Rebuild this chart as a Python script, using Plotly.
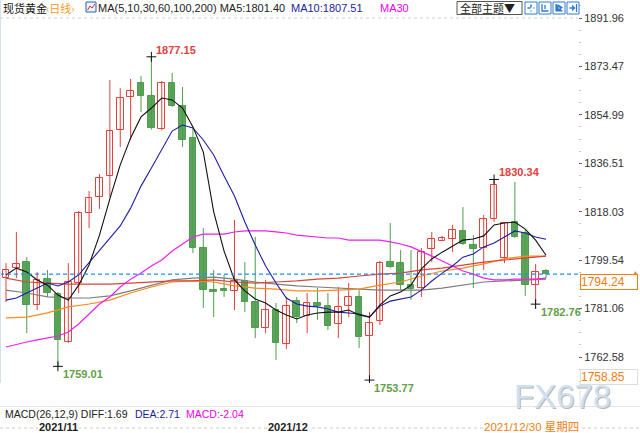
import plotly.graph_objects as go
import pandas as pd

# ---------------- data ----------------
dates = [d.strftime("%Y-%m-%d") for d in pd.bdate_range("2021-10-27", periods=53)]

opens = [1792.7, 1796.5, 1798.8, 1782.4, 1792.3, 1786.6, 1768.3, 1790.8, 1817.5, 1823.6,
         1831.7, 1849.2, 1861.8, 1867.2, 1862.2, 1849.6, 1867.2, 1858.4, 1846.2, 1804.2,
         1788.1, 1788.5, 1787.8, 1791.6, 1783.6, 1773.6, 1780.5, 1767.5, 1783.9, 1778.2,
         1783.2, 1782.0, 1775.2, 1782.0, 1785.5, 1770.6, 1776.3, 1798.8, 1798.4, 1790.1,
         1788.9, 1803.8, 1806.8, 1807.6, 1810.7, 1805.3, 1804.2, 1815.2, 1800.4, 1814.1,
         1809.9, 1790.1, 1795.4]
highs = [1798.4, 1810.3, 1800.7, 1795.0, 1795.8, 1787.4, 1798.4, 1818.3, 1825.9, 1832.4,
         1868.3, 1865.2, 1868.7, 1869.8, 1877.15, 1867.9, 1871.0, 1865.6, 1850.0, 1811.8,
         1795.8, 1793.9, 1814.9, 1798.8, 1808.4, 1792.0, 1783.2, 1785.5, 1785.5, 1787.0,
         1788.9, 1787.0, 1789.3, 1790.8, 1788.1, 1779.7, 1799.2, 1813.7, 1803.4, 1803.4,
         1804.2, 1810.3, 1808.8, 1813.0, 1819.8, 1809.1, 1816.8, 1830.34, 1814.1, 1829.4,
         1811.0, 1798.1, 1796.2]
lows = [1783.6, 1792.7, 1771.7, 1780.5, 1785.5, 1759.01, 1768.0, 1787.0, 1811.8, 1819.1,
        1823.6, 1842.7, 1845.4, 1856.1, 1849.4, 1849.0, 1858.0, 1842.7, 1802.3, 1781.3,
        1777.8, 1785.5, 1780.5, 1779.7, 1769.8, 1771.7, 1761.4, 1765.6, 1775.5, 1771.7,
        1776.7, 1772.9, 1769.8, 1777.8, 1766.0, 1753.77, 1774.8, 1796.5, 1788.1, 1784.3,
        1785.5, 1798.8, 1806.8, 1802.6, 1805.3, 1788.9, 1795.8, 1814.1, 1798.4, 1808.0,
        1785.9, 1782.76, 1792.7]
closes = [1795.8, 1798.1, 1782.4, 1792.0, 1787.0, 1769.1, 1791.2, 1817.5, 1823.2, 1830.9,
          1848.8, 1861.4, 1864.1, 1862.2, 1850.0, 1867.2, 1858.4, 1845.4, 1804.2, 1788.1,
          1787.4, 1787.8, 1791.6, 1783.6, 1773.6, 1780.5, 1767.9, 1782.0, 1777.8, 1783.2,
          1782.0, 1774.4, 1781.6, 1785.5, 1770.2, 1775.5, 1798.4, 1796.9, 1790.1, 1788.5,
          1802.6, 1807.6, 1808.0, 1811.0, 1805.7, 1803.8, 1815.2, 1828.2, 1813.7, 1808.4,
          1790.1, 1795.0, 1794.24]

ma5 = [1793.9, 1796.5, 1795.0, 1792.0, 1790.0, 1786.2, 1784.3, 1790.0, 1797.7, 1809.1,
       1822.9, 1835.9, 1846.2, 1854.2, 1857.6, 1861.4, 1860.7, 1857.6, 1850.4, 1840.8,
       1818.0, 1803.0, 1792.0, 1787.8, 1784.7, 1783.2, 1780.5, 1778.6, 1777.1, 1778.6,
       1779.4, 1779.7, 1779.7, 1780.5, 1778.6, 1777.8, 1782.4, 1785.9, 1787.4, 1790.0,
       1796.2, 1800.0, 1802.6, 1804.9, 1807.2, 1807.6, 1808.8, 1813.0, 1813.7, 1814.1,
       1811.4, 1807.2, 1801.4]
ma10 = [1784.3, 1785.1, 1787.0, 1788.9, 1790.8, 1789.7, 1791.2, 1793.9, 1798.5, 1803.4,
        1808.0, 1812.6, 1819.4, 1827.8, 1834.7, 1842.0, 1848.8, 1851.1, 1850.0, 1845.4,
        1839.7, 1831.7, 1824.0, 1814.1, 1805.3, 1797.3, 1790.8, 1785.1, 1782.8, 1782.0,
        1781.7, 1780.9, 1779.7, 1779.4, 1779.0, 1777.8, 1782.0, 1783.9, 1784.7, 1785.5,
        1788.1, 1791.6, 1794.6, 1797.3, 1800.7, 1801.9, 1804.6, 1806.1, 1808.4, 1810.7,
        1809.9, 1808.4, 1807.51]
ma30 = [1766.4, 1767.5, 1768.3, 1769.1, 1769.8, 1770.6, 1772.1, 1775.2, 1779.0, 1782.8,
        1785.5, 1789.3, 1792.3, 1794.6, 1797.3, 1799.6, 1803.0, 1805.7, 1808.4, 1809.5,
        1809.5, 1809.5, 1810.3, 1810.7, 1810.7, 1810.7, 1810.3, 1809.9, 1809.1, 1808.8,
        1808.4, 1808.0, 1808.0, 1807.2, 1807.2, 1807.2, 1807.2, 1806.5, 1805.7, 1804.6,
        1803.0, 1801.1, 1799.2, 1797.3, 1795.4, 1794.2, 1792.7, 1792.0, 1792.0, 1792.3,
        1792.3, 1792.3, 1792.7]
# long averages read every second session
ma60 = [1777.5, 1777.8, 1779.4, 1781.7, 1782.8, 1784.3, 1787.0, 1789.3, 1791.2, 1791.6,
        1791.2, 1789.7, 1788.9, 1788.5, 1787.8, 1787.8, 1788.1, 1788.5, 1790.0, 1791.2,
        1793.5, 1795.4, 1796.5, 1798.1, 1800.0, 1801.1, 1801.1]
ma100 = [1788.1, 1787.0, 1785.5, 1785.1, 1785.1, 1785.9, 1787.8, 1790.0, 1792.0, 1792.7,
         1793.1, 1792.3, 1791.2, 1790.4, 1789.7, 1789.3, 1788.9, 1788.5, 1788.1, 1788.1,
         1788.1, 1788.9, 1790.0, 1791.2, 1791.6, 1792.0, 1792.3]
ma200 = [1792.7, 1791.2, 1790.8, 1790.4, 1790.4, 1790.4, 1790.8, 1791.2, 1791.6, 1791.6,
         1792.0, 1791.2, 1790.8, 1791.2, 1791.6, 1792.3, 1792.7, 1793.5, 1794.2, 1794.6,
         1795.8, 1796.5, 1797.7, 1798.8, 1799.6, 1800.4, 1801.1]

price_ticks = [1762.58, 1781.06, 1799.54, 1818.03, 1836.51, 1854.99, 1873.47, 1891.96]
month_labels = [("2021-11-01", "2021/11"), ("2021-12-01", "2021/12")]
extremes = [(14, "high"), (5, "low"), (35, "low"), (47, "high"), (51, "low")]
cursor_price = 1758.85
cursor_date = "2021/12/30 星期四"
macd_text = [("MACD(26,12,9) DIFF:1.69", "#222222", 3), ("DEA:2.71", "#1c1c9c", 133), ("MACD:-2.04", "#ee00ee", 184)]

# ---------------- style ----------------
W, H = 640, 433
PLOT_R = 578
RED = "#e3413b"
GREEN = "#4f9c4f"
GREEN_FILL = "#5ba55b"
ORANGE = "#f27d12"
FONT = "Arial, Liberation Sans, Noto Sans CJK SC, sans-serif"
CJK = "Noto Sans CJK SC, sans-serif"

def px(x):
    return x / W

def py(y):
    return 1 - y / H

xs = list(range(len(dates)))
xs_long = xs[::2]

fig = go.Figure()

# wicks
for up in (True, False):
    wx, wy = [], []
    for i in xs:
        if (closes[i] >= opens[i]) == up:
            wx += [i, i, None]
            wy += [lows[i], highs[i], None]
    fig.add_trace(go.Scatter(x=wx, y=wy, mode="lines", hoverinfo="skip",
                             line=dict(color=RED if up else GREEN, width=1)))

# bodies
for up in (True, False):
    bx, bb, bh = [], [], []
    for i in xs:
        if (closes[i] >= opens[i]) == up:
            bx.append(i)
            bb.append(min(opens[i], closes[i]))
            bh.append(max(abs(closes[i] - opens[i]), 0.4))
    fig.add_trace(go.Bar(x=bx, y=bh, base=bb, width=0.64, hoverinfo="skip",
                         marker=dict(color="white" if up else GREEN_FILL,
                                     line=dict(color=RED if up else GREEN, width=1))))

# moving averages
fig.add_trace(go.Scatter(x=xs_long, y=ma100, mode="lines", line=dict(color="#7d7d7d", width=1.2), hoverinfo="skip"))
fig.add_trace(go.Scatter(x=xs_long, y=ma60, mode="lines", line=dict(color="#ff8a1c", width=1.2), hoverinfo="skip"))
fig.add_trace(go.Scatter(x=xs_long, y=ma200, mode="lines", line=dict(color="#d8453b", width=1.2), hoverinfo="skip"))
fig.add_trace(go.Scatter(x=xs, y=ma30, mode="lines", line=dict(color="#f01ef0", width=1.2), hoverinfo="skip"))
fig.add_trace(go.Scatter(x=xs, y=ma10, mode="lines", line=dict(color="#1d1da6", width=1.1), hoverinfo="skip"))
fig.add_trace(go.Scatter(x=xs, y=ma5, mode="lines", line=dict(color="#111111", width=1.1), hoverinfo="skip"))

# extreme markers
ex_x = [i for i, k in extremes]
ex_y = [highs[i] if k == "high" else lows[i] for i, k in extremes]
fig.add_trace(go.Scatter(x=ex_x, y=ex_y, mode="markers", hoverinfo="skip",
                         marker=dict(symbol="cross-thin", size=7, line=dict(color="#111", width=1))))

annotations = []
for (i, k), v in zip(extremes, ex_y):
    annotations.append(dict(x=i, y=v, xref="x", yref="y", text=f"{v:.2f}", showarrow=False,
                            xanchor="left", yanchor="middle", xshift=3, yshift=7 if k == "high" else -8,
                            font=dict(size=11, color=RED if k == "high" else "#62a046", family=FONT, weight="bold")))

# header
def txt(x, y, s, color="#222", size=11, family=FONT, **kw):
    d = dict(x=px(x), y=py(y), xref="paper", yref="paper", text=s, showarrow=False,
             xanchor="left", yanchor="middle", font=dict(size=size, color=color, family=family))
    d.update(kw)
    annotations.append(d)

txt(1, 8, "现货黄金", "#111", 11, CJK)
txt(44, 8, "‹日线›", "#f39a1e", 11, CJK)
txt(96, 8, "MA(5,10,30,60,100,200) MA5:1801.40", "#222", 11)
txt(289, 8, "MA10:1807.51", "#1c1c9c", 11)
txt(378, 8, "MA30", "#ee00ee", 11)
txt(458, 8, "全部主题▼", "#222", 11, CJK)

for s, c, x in macd_text:
    txt(x, 414, s, c, 10.5)

for d, lab in month_labels:
    annotations.append(dict(x=dates.index(d), y=py(427), xref="x", yref="paper", text=lab, showarrow=False,
                            xanchor="left", yanchor="middle", xshift=1, bgcolor="white", borderpad=0,
                            font=dict(size=11, color="#222", family=FONT, weight="bold")))

txt(483, 427, cursor_date, ORANGE, 11.5, FONT, bgcolor="white", borderpad=0)

# watermark
annotations.append(dict(x=px(562), y=py(396), xref="paper", yref="paper", text="FX678", showarrow=False,
                        xanchor="center", yanchor="middle", xshift=1.5, yshift=-1.5,
                        font=dict(size=33, color="#bdb6ae", family="Liberation Sans")))
annotations.append(dict(x=px(562), y=py(396), xref="paper", yref="paper", text="FX678", showarrow=False,
                        xanchor="center", yanchor="middle",
                        font=dict(size=33, color="#cfe0f2", family="Liberation Sans")))

# price boxes on axis
annotations.append(dict(x=px(580), y=closes[-1], xref="paper", yref="y", text=f"{closes[-1]:.2f}",
                        showarrow=False, xanchor="left", yanchor="top", align="left",
                        bordercolor=ORANGE, borderwidth=1, borderpad=0, bgcolor="white", width=56,
                        font=dict(size=12, color=ORANGE, family=FONT)))
annotations.append(dict(x=px(635), y=py(272), xref="paper", yref="paper", text="▲", showarrow=False,
                        xanchor="center", yanchor="middle", font=dict(size=7, color=ORANGE)))
annotations.append(dict(x=px(580), y=py(376.5), xref="paper", yref="paper", text=f"{cursor_price:.2f}",
                        showarrow=False, xanchor="left", yanchor="middle", align="left",
                        bordercolor="#dddddd", borderwidth=1, borderpad=0, bgcolor="white", width=56,
                        font=dict(size=12, color=ORANGE, family=FONT)))

shapes = [
    dict(type="line", xref="paper", yref="y", x0=0, x1=px(PLOT_R), y0=price_ticks[-1], y1=price_ticks[-1],
         line=dict(color="#cfcfcf", width=1, dash="dot")),
    dict(type="line", xref="paper", yref="y", x0=0, x1=px(PLOT_R), y0=closes[-1], y1=closes[-1],
         line=dict(color="#1e8fff", width=1.3, dash="4px,3px")),
    dict(type="line", xref="paper", yref="paper", x0=0, x1=1, y0=py(406.5), y1=py(406.5),
         line=dict(color="#e4e4e4", width=1)),
    dict(type="line", xref="paper", yref="paper", x0=0, x1=1, y0=py(428), y1=py(428),
         line=dict(color="#cccccc", width=1, dash="dot")),
    dict(type="line", xref="paper", yref="paper", x0=px(580), x1=px(580), y0=py(383), y1=py(406.5),
         line=dict(color="#e4e4e4", width=1)),
    dict(type="line", xref="paper", yref="paper", x0=px(0.5), x1=px(0.5), y0=py(0), y1=py(383),
         line=dict(color="#d6e2ee", width=1)),
    dict(type="rect", xref="paper", yref="paper", x0=px(457), x1=px(522), y0=py(14.5), y1=py(1.5),
         line=dict(color="#555555", width=1), fillcolor="white", layer="below"),
    # header chart icon
    dict(type="rect", xref="paper", yref="paper", x0=px(86), x1=px(96), y0=py(12), y1=py(2),
         line=dict(color="#2e5fb8", width=1), fillcolor="#eaf1ff"),
    dict(type="path", xref="paper", yref="paper",
         path=f"M {px(87.5)} {py(10)} L {px(90)} {py(6)} L {px(92)} {py(8)} L {px(95)} {py(4)}",
         line=dict(color="#d0301f", width=1)),
]
for k, x0 in enumerate([525, 539, 553, 567]):
    shapes.append(dict(type="rect", xref="paper", yref="paper", x0=px(x0), x1=px(x0 + 12), y0=py(14), y1=py(2),
                       line=dict(color="#2f7bd0", width=1), fillcolor="white"))
    cx = x0 + 6
    if k == 0:
        shapes.append(dict(type="path", xref="paper", yref="paper",
                           path=f"M {px(cx-3.5)} {py(8)} L {px(cx+3.5)} {py(8)} M {px(cx)} {py(4.5)} L {px(cx)} {py(11.5)}",
                           line=dict(color="#2f7bd0", width=1.5, dash="dot")))
    elif k == 1:
        shapes.append(dict(type="path", xref="paper", yref="paper",
                           path=f"M {px(cx-3)} {py(4)} L {px(cx-3)} {py(11)} L {px(cx+3.5)} {py(11)} M {px(cx)} {py(5)} L {px(cx)} {py(9)}",
                           line=dict(color="#2f7bd0", width=1.3)))
    elif k == 2:
        shapes.append(dict(type="path", xref="paper", yref="paper",
                           path=f"M {px(cx-3)} {py(4)} L {px(cx-3)} {py(11)} L {px(cx+3.5)} {py(11)} M {px(cx-1)} {py(5)} L {px(cx+3)} {py(7.5)} L {px(cx-1)} {py(10)} Z",
                           line=dict(color="#2f7bd0", width=1.2), fillcolor="#2f7bd0"))
    else:
        shapes.append(dict(type="path", xref="paper", yref="paper",
                           path=f"M {px(cx-3.5)} {py(8)} L {px(cx+1)} {py(8)} M {px(cx-1)} {py(5.5)} L {px(cx+1.5)} {py(8)} L {px(cx-1)} {py(10.5)} M {px(cx+3.5)} {py(4)} L {px(cx+3.5)} {py(12)}",
                           line=dict(color="#2f7bd0", width=1.3)))

fig.update_layout(
    width=W, height=H, margin=dict(l=0, r=0, t=0, b=0),
    paper_bgcolor="white", plot_bgcolor="white", showlegend=False,
    barmode="overlay", bargap=0,
    xaxis=dict(domain=[0, px(PLOT_R)], range=[-0.578, 55.08], showgrid=False, zeroline=False,
               showticklabels=False, ticks="", showline=False, fixedrange=True),
    yaxis=dict(domain=[py(383), 1], range=[1752.66, 1898.83], side="right",
               tickmode="array", tickvals=price_ticks, ticktext=[f"{v:.2f}" for v in price_ticks],
               ticks="outside", ticklen=3, tickcolor="#666666",
               tickfont=dict(size=11, color="#333333", family=FONT),
               minor=dict(tickmode="linear", tick0=price_ticks[0],
                          dtick=(price_ticks[-1] - price_ticks[0]) / 28,
                          ticks="outside", ticklen=2, tickcolor="#c8c8c8"),
               showgrid=False, zeroline=False, showline=False, fixedrange=True),
    annotations=annotations, shapes=shapes,
)

fig.write_html("out.html", config={"displayModeBar": False},
               post_script="document.body.style.margin='0';document.body.style.overflow='hidden';")
